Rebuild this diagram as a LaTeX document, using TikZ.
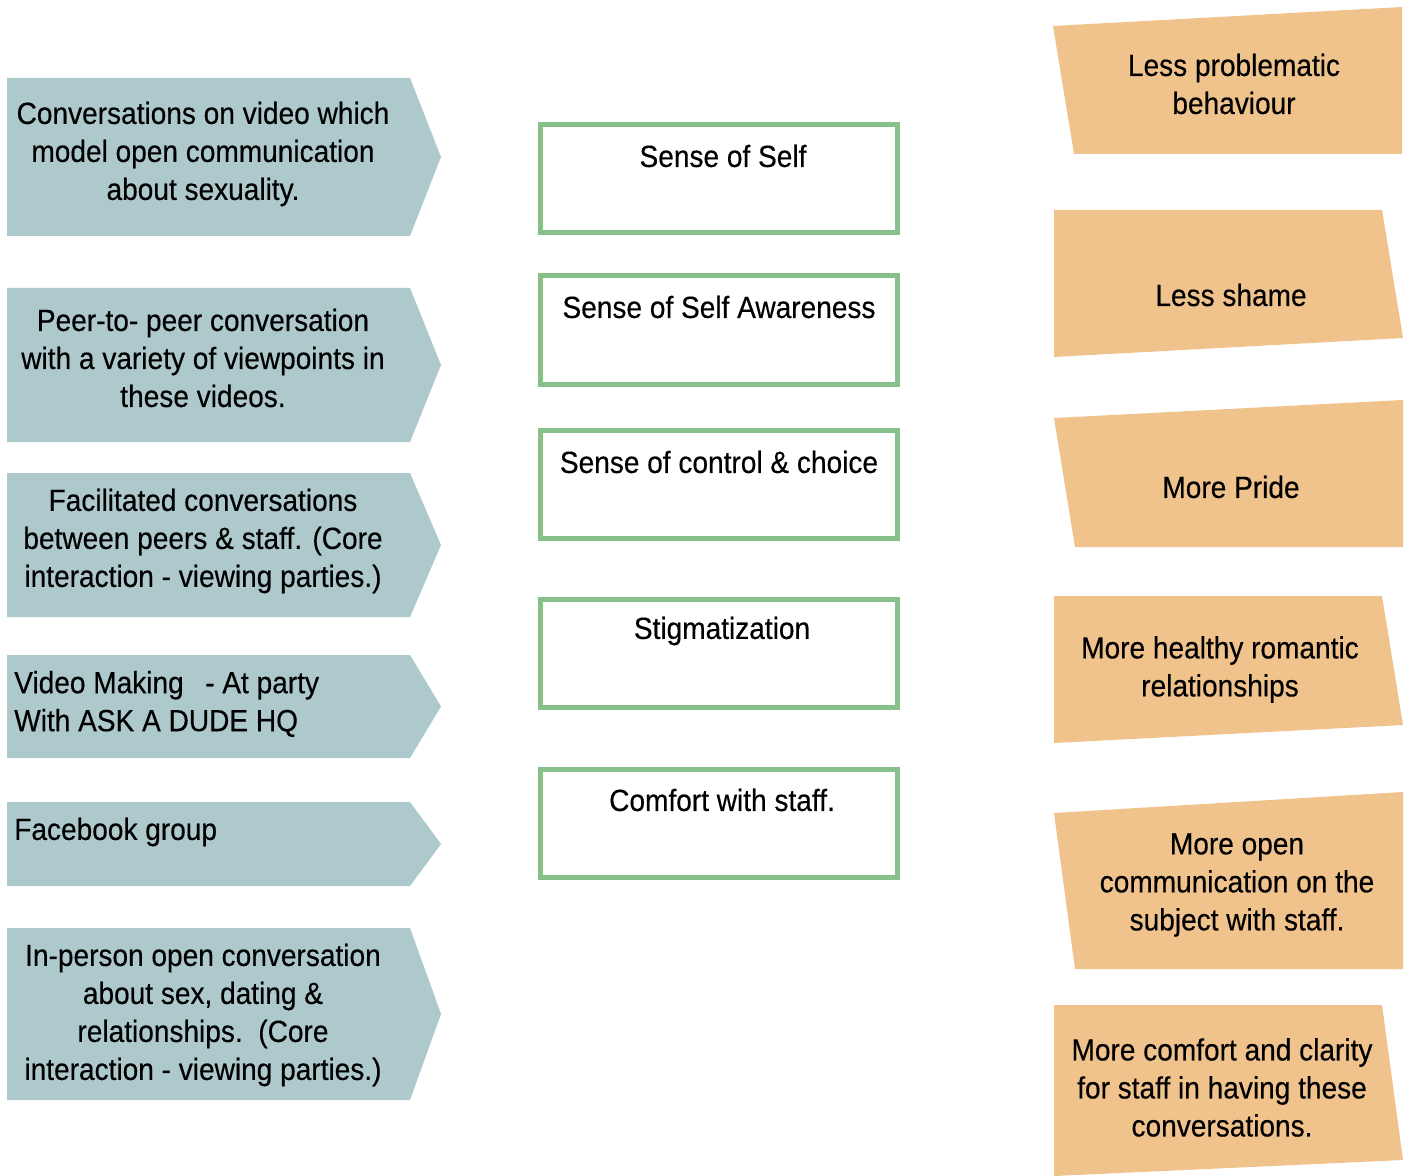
\documentclass[tikz,border=0pt]{standalone}
\usepackage{fontspec}
\setmainfont[FakeStretch=0.915,FakeBold=0.35]{Liberation Sans}
\definecolor{inputfill}{HTML}{AEC9CC}
\definecolor{outfill}{HTML}{F0C38D}
\definecolor{midline}{HTML}{88C08A}
\tikzset{
  lbl/.style={font=\fontsize{23}{28.5}\selectfont, inner sep=0pt, text=black},
  inshape/.style={fill=inputfill},
  outshape/.style={fill=outfill},
  midbox/.style={draw=midline, line width=3.75pt, fill=white}
}
\newcommand\inarrow[2]{\fill[inshape] (7,#1) -- (410,#1) -- (441,{(#1+#2)/2}) -- (410,#2) -- (7,#2) -- cycle;}
\begin{document}
\begin{tikzpicture}[x=0.75pt,y=-0.75pt]
\useasboundingbox (0,0) rectangle (1408,1176);
\fill[white] (0,0) rectangle (1408,1176);
% input arrows
\inarrow{78}{236}
\inarrow{288}{442}
\inarrow{473}{617}
\inarrow{655}{758}
\inarrow{802}{886}
\inarrow{928}{1100}
\node[lbl, align=center] (in1) at (203,154) {Conversations on video which\\model open communication\\about sexuality.};
\node[lbl, align=center] (in2) at (203,358) {Peer-to- peer conversation\\with a variety of viewpoints in\\these videos.};
\node[lbl, align=center] (in3) at (203,541) {Facilitated conversations\\between peers \& staff. (Core\\interaction - viewing parties.)};
\node[lbl, align=left, anchor=west] (in4) at (14,704) {Video Making\hspace{0.7em}- At party\\With ASK A DUDE HQ};
\node[lbl, anchor=west] (in5) at (14,832) {Facebook group};
\node[lbl, align=center] (in6) at (203,1015) {In-person open conversation\\about sex, dating \&\\relationships.\ \ (Core\\interaction - viewing parties.)};
% middle boxes
\draw[midbox] (540,124.5) rectangle (897,232.5);
\draw[midbox] (540,275.5) rectangle (897,384.5);
\draw[midbox] (540,430.5) rectangle (897,538.5);
\draw[midbox] (540,599.5) rectangle (897,707.5);
\draw[midbox] (540,769.5) rectangle (897,877.5);
\node[lbl] (m1) at (723,156) {Sense of Self};
\node[lbl] (m2) at (719,307) {Sense of Self Awareness};
\node[lbl] (m3) at (719,462) {Sense of control \& choice};
\node[lbl] (m4) at (722,631) {Stigmatization};
\node[lbl] (m5) at (722,800) {Comfort with staff.};
% outcome shapes
\fill[outshape] (1053,26) -- (1402,7) -- (1402,154) -- (1074,154) -- cycle;
\fill[outshape] (1054,210) -- (1382,210) -- (1403,338) -- (1054,357) -- cycle;
\fill[outshape] (1054,418) -- (1403,400) -- (1403,547) -- (1075,547) -- cycle;
\fill[outshape] (1054,596) -- (1382,596) -- (1403,725) -- (1054,743) -- cycle;
\fill[outshape] (1054,813) -- (1403,792) -- (1403,969) -- (1075,969) -- cycle;
\fill[outshape] (1054,1005) -- (1382,1005) -- (1403,1160) -- (1054,1176) -- cycle;
\node[lbl, align=center] (o1) at (1234,84) {Less problematic\\behaviour};
\node[lbl] (o2) at (1231,295) {Less shame};
\node[lbl] (o3) at (1231,487) {More Pride};
\node[lbl, align=center] (o4) at (1220,669.5) {More healthy romantic\\relationships};
\node[lbl, align=center] (o5) at (1237,885) {More open\\communication on the\\subject with staff.};
\node[lbl, align=center] (o6) at (1222,1087.5) {More comfort and clarity\\for staff in having these\\conversations.};
\end{tikzpicture}
\end{document}
